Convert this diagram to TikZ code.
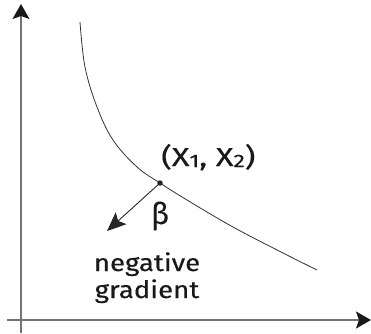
\documentclass[tikz,border=0pt]{standalone}
\usepackage{fontspec}
\setmainfont{Fira Sans}
\newfontfamily\lblfont{Fira Sans}[FakeBold=0.3]
\usetikzlibrary{arrows.meta}
\begin{document}
\begin{tikzpicture}[x=1pt,y=-1pt,
  axis/.style={draw=black!55,line width=1.3pt,-{Stealth[length=15pt,width=17pt,inset=3pt,color=black!90]}},
  curveline/.style={draw=black!80,line width=0.8pt},
  gradarrow/.style={draw=black!85,line width=0.9pt,-{Stealth[length=19pt,width=16pt,inset=4pt]}},
  lbl/.style={inner sep=0pt,text=black!90,font=\lblfont},
  dotstyle/.style={circle,fill=black!85,inner sep=0pt,minimum size=5.5pt}]
\useasboundingbox (0,0) rectangle (371,333);
\coordinate (yb) at (21,333);
\coordinate (yt) at (21,4);
\coordinate (xl) at (7,320);
\coordinate (xr) at (371,320);
\draw[axis] (yb) -- (yt);
\draw[axis] (xl) -- (xr);
\draw[curveline] plot[smooth,tension=0.6] coordinates {(80,22) (85,67) (97,107) (113,140) (137,167) (160,183) (187,200) (233,227) (283,253) (317,270)};
\node[dotstyle] (pt) at (160,183) {};
\coordinate (tip) at (107,231);
\draw[gradarrow] (pt.center) -- (tip);
\node[lbl,anchor=base west] (xy) at (161,166) {\scalebox{1.26}[1]{\fontsize{26}{30}\selectfont (X\raisebox{-1pt}{\fontsize{18}{18}\selectfont 1}, X\raisebox{-1pt}{\fontsize{18}{18}\selectfont 2})}};
\node[lbl] (beta) at (160,216) {\fontsize{30}{34}\selectfont β};
\node[lbl,anchor=base] (neg1) at (147,271) {\scalebox{1.15}[1]{\fontsize{24}{28}\selectfont negative}};
\node[lbl,anchor=base] (neg2) at (147,298) {\scalebox{1.15}[1]{\fontsize{24}{28}\selectfont gradient}};
\end{tikzpicture}
\end{document}
